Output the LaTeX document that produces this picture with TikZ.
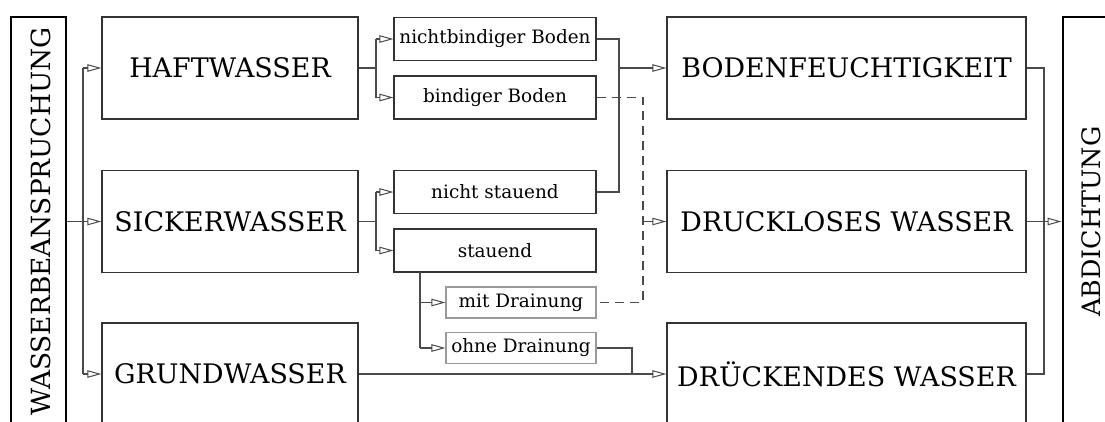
\documentclass[tikz,border=0pt]{standalone}
\usepackage{fontspec}
\setmainfont{DejaVu Serif}
\usetikzlibrary{arrows.meta}
\definecolor{boxline}{HTML}{333333}
\definecolor{wire}{HTML}{4A4A4A}
\definecolor{lightbox}{HTML}{999999}
\tikzset{
  bigbox/.style={draw=boxline, line width=1.3bp, minimum width=256bp, minimum height=102bp,
    inner sep=0pt, font=\fontsize{27}{27}\selectfont},
  resbox/.style={bigbox, minimum width=359bp},
  sidebox/.style={draw=black, line width=2bp, minimum width=55bp, minimum height=409bp,
    inner sep=0pt},
  sidetext/.style={rotate=90, inner sep=0pt, font=\fontsize{26.5}{26.5}\selectfont},
  subbox/.style={draw=boxline, line width=1.1bp, minimum width=202bp, minimum height=43bp,
    inner sep=0pt, font=\fontsize{18.5}{18.5}\selectfont},
  drainbox/.style={subbox, draw=lightbox, minimum width=150bp, minimum height=31bp},
  wireline/.style={draw=wire, line width=1.1bp},
  arr/.style={wireline, -{Triangle[open, length=14bp, width=7.5bp, line width=1bp]}},
  dashline/.style={wireline, dash pattern=on 9bp off 6bp},
}
\begin{document}
\begin{tikzpicture}[x=1bp, y=-1bp]
\useasboundingbox (0,0) rectangle (1105,421);
\fill[white] (0,0) rectangle (1105,421);
\clip (0,0) rectangle (1105,421);

% outer frames: load and sealing
\node[sidebox] (wb) at (38.5,221.5) {};
\node[sidetext] at (41,221.5) {WASSERBEANSPRUCHUNG};
\node[sidebox] (ab) at (1090,221.5) {};
\node[sidetext, font=\fontsize{25.5}{25.5}\selectfont] at (1091,221.5) {ABDICHTUNG};

% water types
\node[bigbox] (haft) at (230,68) {HAFTWASSER};
\node[bigbox] (sicker) at (230,221.5) {SICKERWASSER};
\node[bigbox] (grund) at (230,374) {GRUNDWASSER};

% soil / situation boxes
\node[subbox] (nb) at (495,39) {nichtbindiger Boden};
\node[subbox] (bb) at (495,97.5) {bindiger Boden};
\node[subbox] (ns) at (495,192) {nicht stauend};
\node[subbox] (st) at (495,250.5) {stauend};
\node[drainbox] (mit) at (521,302.5) {mit Drainung};
\node[drainbox] (ohne) at (521,348) {ohne Drainung};

% load cases
\node[resbox] (bf) at (846.5,68) {BODENFEUCHTIGKEIT};
\node[resbox] (dl) at (846.5,221.5) {DRUCKLOSES WASSER};
\node[resbox] (dr) at (846.5,374) {DRÜCKENDES WASSER};

% junction points
\coordinate (t0) at (83,221.5);
\coordinate (t1) at (376,68);
\coordinate (t2) at (376,221.5);
\coordinate (t3) at (420,272);
\coordinate (j1) at (619,68);
\coordinate (j2) at (643,221.5);
\coordinate (j3) at (632,374);
\coordinate (j4) at (1044,221.5);

% trunk from WASSERBEANSPRUCHUNG
\draw[wireline] (wb.east |- t0) -- (t0);
\draw[wireline] (t0 |- haft.west) -- (t0 |- grund.west);
\draw[arr] (t0 |- haft.west) -- (haft.west);
\draw[arr] (t0) -- (sicker.west);
\draw[arr] (t0 |- grund.west) -- (grund.west);

% Haftwasser branch
\draw[wireline] (haft.east) -- (t1);
\draw[wireline] (t1 |- nb.west) -- (t1 |- bb.west);
\draw[arr] (t1 |- nb.west) -- (nb.west);
\draw[arr] (t1 |- bb.west) -- (bb.west);

% Sickerwasser branch
\draw[wireline] (sicker.east) -- (t2);
\draw[wireline] (t2 |- ns.west) -- (t2 |- st.west);
\draw[arr] (t2 |- ns.west) -- (ns.west);
\draw[arr] (t2 |- st.west) -- (st.west);

% stauend branch
\draw[wireline] (t3) -- (t3 |- ohne.west);
\draw[arr] (t3 |- mit.west) -- (mit.west);
\draw[arr] (t3 |- ohne.west) -- (ohne.west);

% to Bodenfeuchtigkeit
\draw[wireline] (nb.east) -- (j1 |- nb.east) -- (j1 |- ns.east) -- (ns.east);
\draw[arr] (j1) -- (bf.west);

% to drucklosem Wasser (dashed)
\draw[dashline] (bb.east) -- (j2 |- bb.east) -- (j2 |- mit.east) -- (mit.east);
\draw[arr] (j2) -- (dl.west);

% to drückendem Wasser
\draw[wireline] (ohne.east) -- (j3 |- ohne.east) -- (j3);
\draw[arr] (grund.east) -- (dr.west);

% to Abdichtung
\draw[wireline] (bf.east) -- (j4 |- bf.east) -- (j4 |- dr.east) -- (dr.east);
\draw[arr] (dl.east) -- (ab.west |- dl.east);
\end{tikzpicture}
\end{document}
